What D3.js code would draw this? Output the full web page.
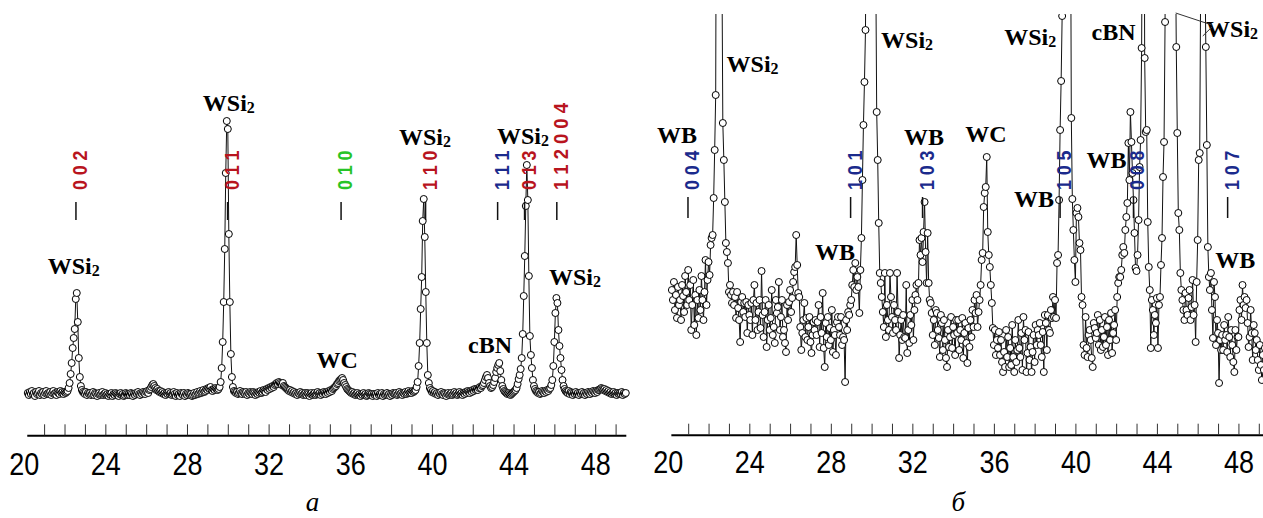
<!DOCTYPE html>
<html><head><meta charset="utf-8">
<script src="https://cdn.jsdelivr.net/npm/d3@7"></script>
<style>
body{margin:0;background:#fff;}
svg{display:block;}
</style></head><body>
<svg id="chart" width="1263" height="518"></svg>
<script>
// ---------------- data ----------------
const thetaStart = 20.2;   // 2θ of first point, degrees
const thetaStep = 0.05;    // scan step, degrees
// panel а: intensity (arb. units), one row = 1 degree
const intensityA = [
 3,1,4,2,5,2,3,0,4,2,3,5,1,3,2,4,1,3,5,2,
 3,2,4,1,3,5,2,3,1,4,3,2,5,3,4,2,4,3,4,5,
 8,13,22,33,48,58,67,97,103,74,38,19,10,6,4,3,2,4,1,3,
 2,3,1,2,4,1,3,2,0,2,3,1,2,4,1,2,3,1,2,0,
 2,1,3,0,2,1,3,2,1,0,2,3,1,2,0,1,3,2,1,2,
 1,3,2,0,2,1,3,2,4,2,1,3,2,4,3,2,4,5,3,6,
 7,9,11,12,10,8,6,7,5,4,5,3,4,2,3,1,3,2,4,2,
 3,1,2,4,2,0,3,1,2,0,3,2,1,3,0,2,1,3,2,1,
 2,0,1,3,1,2,4,2,3,5,3,4,6,4,5,7,6,8,7,9,
 6,5,7,6,8,7,6,7,9,14,28,54,94,147,223,275,267,162,94,42,
 19,9,5,4,3,4,2,3,5,3,2,4,3,2,4,1,3,2,4,3,
 2,4,3,1,3,2,4,3,5,3,4,6,5,4,7,6,8,7,9,8,
 10,9,11,12,13,12,14,13,12,11,13,10,9,8,7,6,5,6,4,5,
 3,4,2,3,1,3,2,4,2,3,1,2,3,1,3,2,0,2,3,1,
 2,3,1,2,4,2,3,1,3,2,4,3,2,4,3,5,4,6,5,7,
 8,9,10,12,13,15,16,17,18,16,13,11,9,7,6,5,4,3,4,2,
 3,1,2,3,1,2,0,2,1,3,1,2,0,1,3,2,1,2,0,2,
 1,2,0,3,1,2,1,3,0,2,1,2,3,1,2,0,2,1,3,2,
 2,3,1,2,4,2,3,1,3,2,4,2,3,5,3,4,3,5,4,5,
 6,9,14,30,53,87,119,175,197,159,104,53,21,13,8,6,4,5,3,4,
 2,3,1,3,2,4,2,1,3,2,0,2,3,1,2,3,1,2,4,2,
 3,1,2,4,2,3,1,3,2,4,3,5,4,3,5,4,6,5,7,6,
 7,6,8,9,8,10,11,13,16,19,21,18,13,10,8,9,11,14,18,24,
 28,31,33,25,16,10,7,5,4,3,2,3,2,1,2,3,4,5,6,8,
 12,17,21,27,38,62,100,140,190,231,196,120,60,41,28,16,10,7,5,4,
 3,4,2,3,5,4,3,5,4,6,5,7,8,11,16,30,54,83,98,93,
 66,50,38,26,16,10,7,5,4,3,5,2,4,3,1,3,2,4,2,3,
 1,3,2,4,2,3,1,3,2,4,3,2,4,3,5,4,3,5,4,6,
 6,7,8,7,6,7,5,6,4,5,3,4,2,3,4,2,3,1,3,2,
 3,2,4,1,3,2,3
];
// panel б: intensity (arb. units, expanded scale), one row = 1 degree
const intensityB = [
 130,120,138,110,125,102,133,115,120,100,135,124,108,144,128,115,150,120,135,90,
 115,140,95,125,85,120,102,130,110,144,120,100,128,160,115,140,158,145,175,182,
 185,222,270,325,700,1400,2000,1700,900,480,297,260,218,177,168,157,128,135,125,117,
 128,115,123,102,128,112,100,78,118,123,108,117,103,118,87,115,105,100,117,85,
 120,135,100,117,90,108,120,92,149,105,83,108,120,73,100,115,90,102,130,85,
 93,77,120,107,113,138,90,103,120,83,90,77,68,115,100,118,130,108,122,138,
 148,153,185,155,127,123,93,70,87,100,117,83,102,80,93,103,78,67,85,98,
 90,100,85,98,115,73,103,87,127,72,53,97,83,103,75,92,80,110,68,90,
 85,65,98,103,93,85,103,75,83,80,38,100,90,108,105,115,120,135,150,133,
 157,130,143,133,107,150,182,240,295,338,390,600,1100,1800,2600,3000,2900,2200,1400,700,
 470,308,260,197,147,137,123,108,93,147,83,115,100,90,147,123,103,87,115,100,
 90,147,108,62,85,100,80,105,83,82,135,67,90,77,105,95,120,80,110,125,
 135,120,137,180,165,182,158,188,218,168,137,187,137,120,117,107,85,100,75,110,
 107,90,82,63,105,97,70,100,80,62,53,90,73,83,103,72,93,85,65,100,
 87,100,70,90,80,102,62,87,97,77,57,92,73,100,83,110,93,120,107,125,
 93,108,120,135,160,167,213,227,233,263,188,165,153,135,117,92,75,90,65,80,
 72,88,65,80,58,48,68,53,90,63,83,53,72,55,95,63,48,80,58,70,
 100,72,63,87,50,103,80,90,48,67,88,60,73,48,68,85,58,95,75,90,
 85,97,75,63,88,48,105,97,70,105,90,87,110,102,123,103,120,102,157,165,
 220,290,339,404,800,1500,2100,2500,2400,1900,1200,600,302,221,190,160,138,207,212,203,
 177,170,123,115,75,65,103,72,63,85,90,80,62,53,97,92,82,87,105,75,
 100,70,90,73,83,103,75,93,65,100,80,107,67,87,95,110,80,123,137,143,
 143,150,165,173,167,190,203,217,277,240,308,278,247,220,187,152,149,165,200,253,
 280,372,600,700,362,288,290,198,153,130,72,120,110,85,105,97,122,72,115,123,
 155,182,243,278,398,900,1800,2600,3000,3100,2800,2000,1300,800,500,373,287,207,190,147,
 130,120,110,100,127,110,105,122,130,100,113,140,105,115,78,138,180,260,267,450,
 520,560,540,470,373,275,173,143,130,147,110,82,138,123,75,100,87,37,80,70,
 85,70,95,80,85,68,103,83,63,90,75,58,48,90,70,83,83,110,120,100,
 135,115,123,112,120,97,73,83,110,87,60,95,87,70,80,60,50,75,55,40,
 65,50,72,45,60,55,70
];
const tickLabels = [20, 24, 28, 32, 36, 40, 44, 48];
const minorTicks = d3.range(21, 50);

// reflections (hkl) : text, 2θ, phase colour
const hklA = [
 {text:"0 0 2", theta:22.56, phase:"WSi2"},
 {text:"0 1 1", theta:29.99, phase:"WSi2"},
 {text:"0 1 0", theta:35.55, phase:"WC"},
 {text:"1 1 0", theta:39.69, phase:"WSi2"},
 {text:"1 1 1", theta:43.22, phase:"cBN"},
 {text:"0 1 3", theta:44.54, phase:"WSi2"},
 {text:"1 1 2 0 0 4", theta:46.12, phase:"WSi2"}
];
const hklB = [
 {text:"0 0 4", theta:20.99, phase:"WB"},
 {text:"1 0 1", theta:28.97, phase:"WB"},
 {text:"1 0 3", theta:32.50, phase:"WB"},
 {text:"1 0 5", theta:39.25, phase:"WB"},
 {text:"0 0 8", theta:42.85, phase:"WB"},
 {text:"1 0 7", theta:47.47, phase:"WB"}
];
// phase labels: text, 2θ of label centre, intensity level of baseline
const phaseA = [
 {text:"WSi", sub:"2", theta:22.45, level:122},
 {text:"WSi", sub:"2", theta:30.05, level:285},
 {text:"WC",  sub:"",  theta:35.36, level:28},
 {text:"WSi", sub:"2", theta:39.66, level:251},
 {text:"cBN", sub:"",  theta:42.85, level:43},
 {text:"WSi", sub:"2", theta:44.46, level:252},
 {text:"WSi", sub:"2", theta:47.01, level:111}
];
const phaseB = [
 {text:"WSi", sub:"2", theta:24.16, level:348},
 {text:"WB",  sub:"",  theta:20.45, level:277},
 {text:"WB",  sub:"",  theta:28.20, level:160},
 {text:"WSi", sub:"2", theta:31.74, level:372},
 {text:"WB",  sub:"",  theta:32.57, level:275},
 {text:"WC",  sub:"",  theta:35.61, level:278},
 {text:"WSi", sub:"2", theta:37.78, level:375},
 {text:"WB",  sub:"",  theta:37.97, level:213},
 {text:"cBN", sub:"",  theta:41.87, level:380},
 {text:"WB",  sub:"",  theta:41.53, level:252},
 {text:"WSi", sub:"2", theta:47.69, level:383},
 {text:"WB",  sub:"",  theta:47.84, level:152}
];
const phaseColor = {WSi2:"#b8141e", WC:"#27c427", cBN:"#1b2a8c", WB:"#1b2a8c"};

// ---------------- drawing ----------------
const svg = d3.select("#chart");
const defs = svg.append("defs");
const NARROW = "'Liberation Sans Narrow','Arial Narrow','Liberation Sans',Arial,sans-serif";
const SERIF = "'Liberation Serif','Times New Roman',serif";

function drawPanel(p) {
  const x = d3.scaleLinear().domain([20.15, 49.5]).range(p.xRange);
  const y = d3.scaleLinear().domain(p.yDomain).range(p.yRange);
  const g = svg.append("g");

  // axis: minor ticks upward
  const gT = g.append("g").attr("transform", `translate(0,${p.axisY})`)
    .call(d3.axisBottom(x).tickValues(minorTicks).tickSizeInner(-11).tickSizeOuter(0).tickFormat(""));
  gT.select(".domain").attr("stroke", "#000").attr("stroke-width", 2);
  gT.selectAll(".tick line").attr("stroke", "#333").attr("stroke-width", 1);
  const gL = g.append("g").attr("transform", `translate(0,${p.axisY})`)
    .call(d3.axisBottom(x).tickValues(tickLabels).tickSize(0).tickPadding(p.pad).tickFormat(d3.format("d")));
  gL.select(".domain").remove();
  gL.selectAll("text").attr("font-size", 32).attr("font-family", NARROW).attr("fill", "#000")
    .attr("textLength", 30).attr("lengthAdjust", "spacingAndGlyphs");

  // data
  const pts = p.data.map((v, i) => ({t: thetaStart + i * thetaStep, v}));
  defs.append("clipPath").attr("id", "clip" + p.id).append("rect")
    .attr("x", p.clip[0]).attr("y", p.clip[1]).attr("width", p.clip[2]).attr("height", p.clip[3]);
  const gd = g.append("g").attr("clip-path", `url(#clip${p.id})`);
  gd.append("path").datum(pts)
    .attr("d", d3.line().x(d => x(d.t)).y(d => y(d.v)))
    .attr("fill", "none").attr("stroke", "#111").attr("stroke-width", 1);
  gd.selectAll("circle").data(pts).join("circle")
    .attr("cx", d => x(d.t)).attr("cy", d => y(d.v)).attr("r", 3.5)
    .attr("fill", "#fff").attr("stroke", "#000").attr("stroke-width", 1);

  // hkl reflections
  p.hkl.forEach(h => {
    const hx = x(h.theta);
    g.append("line").attr("x1", hx).attr("x2", hx)
      .attr("y1", y(p.hklTick[0])).attr("y2", y(p.hklTick[1]))
      .attr("stroke", "#111").attr("stroke-width", 1.5);
    g.append("text")
      .attr("transform", `translate(${hx + 11},${y(p.hklText)}) rotate(-90)`)
      .attr("font-family", NARROW).attr("font-size", 21).attr("font-weight", "bold")
      .attr("fill", phaseColor[h.phase])
      .attr("textLength", h.text.length * 7.9).attr("lengthAdjust", "spacingAndGlyphs")
      .text(h.text);
  });

  // phase labels
  p.phase.forEach(l => {
    const t = g.append("text").attr("x", x(l.theta)).attr("y", y(l.level))
      .attr("text-anchor", "middle").attr("font-family", SERIF).attr("font-weight", "bold")
      .attr("font-size", 24).attr("fill", "#000");
    t.append("tspan").text(l.text);
    if (l.sub) t.append("tspan").attr("font-size", 16).attr("dy", 2).text(l.sub);
  });

  // caption
  g.append("text").attr("x", x(p.caption[1])).attr("y", 511).attr("text-anchor", "middle")
    .attr("font-family", SERIF).attr("font-style", "italic").attr("font-size", 27).attr("fill", "#000")
    .text(p.caption[0]);
  return {x, y, g};
}

drawPanel({id:"A", data:intensityA, xRange:[26.76, 625.8], yDomain:[0, 300], yRange:[396, 96],
  axisY:435.3, pad:17, clip:[0, 14, 640, 426], hkl:hklA, hklTick:[194, 176], hklText:206,
  phase:phaseA, caption:["а", 34.15]});
const B = drawPanel({id:"B", data:intensityB, xRange:[670.86, 1269.0], yDomain:[0, 420], yRange:[420, 0],
  axisY:434.7, pad:16, clip:[640, 14, 623, 426], hkl:hklB, hklTick:[223, 202], hklText:230,
  phase:phaseB, caption:["б", 34.26]});

// leader lines from the right-hand WSi2 label to the 44.6 and 46.2 peaks
B.g.append("path")
  .attr("d", `M${B.x(44.92)},${B.y(407)}L${B.x(46.7)},${B.y(395)}M${B.x(46.7)},${B.y(393)}L${B.x(46.25)},${B.y(384)}`)
  .attr("fill", "none").attr("stroke", "#333").attr("stroke-width", 1);
</script>
</body></html>
